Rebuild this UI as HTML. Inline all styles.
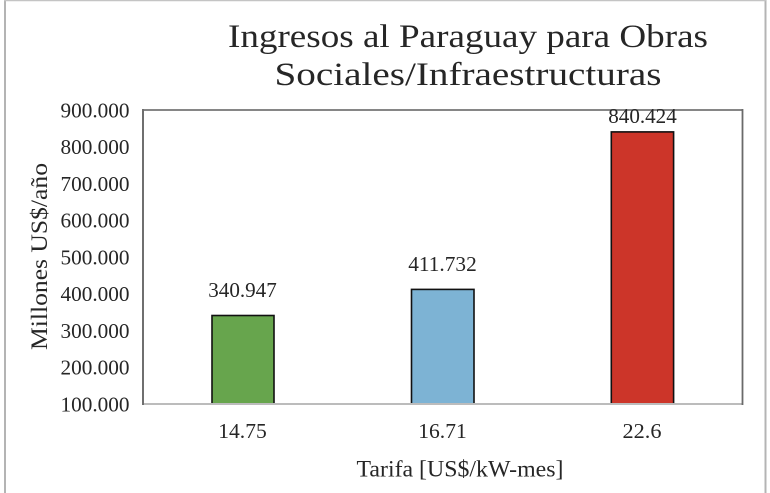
<!DOCTYPE html>
<html>
<head>
<meta charset="utf-8">
<style>
  html, body { margin: 0; padding: 0; background: #ffffff; }
  body { width: 770px; height: 493px; overflow: hidden; }
  svg { display: block; }
  text { font-family: "Liberation Serif", "Noto Serif CJK SC", serif; fill: #262626; }
</style>
</head>
<body>
<svg width="770" height="493" viewBox="0 0 770 493" xmlns="http://www.w3.org/2000/svg">
  <rect x="0" y="0" width="770" height="493" fill="#ffffff"/>
  <!-- outer frame -->
  <line x1="5" y1="0" x2="5" y2="493" stroke="#b4b4b4" stroke-width="2"/>
  <line x1="765.5" y1="0" x2="765.5" y2="493" stroke="#b4b4b4" stroke-width="2"/>
  <line x1="4" y1="0.5" x2="766" y2="0.5" stroke="#c4c4c4" stroke-width="1.5"/>

  <!-- title -->
  <text x="468" y="47" font-size="33" text-anchor="middle" textLength="480" lengthAdjust="spacingAndGlyphs">Ingresos al Paraguay para Obras</text>
  <text x="468" y="85" font-size="33" text-anchor="middle" textLength="387" lengthAdjust="spacingAndGlyphs">Sociales/Infraestructuras</text>

  <!-- bars -->
  <rect x="212" y="315.5" width="62" height="88.5" fill="#67a54d" stroke="#111" stroke-width="1.6"/>
  <rect x="411.5" y="289.4" width="62.5" height="114.6" fill="#7db3d4" stroke="#111" stroke-width="1.6"/>
  <rect x="611.3" y="131.9" width="62.3" height="272.1" fill="#cc3529" stroke="#111" stroke-width="1.6"/>

  <!-- plot area frame -->
  <line x1="143" y1="404" x2="743" y2="404" stroke="#bcbcbc" stroke-width="2"/>
  <line x1="143" y1="110" x2="743" y2="110" stroke="#757575" stroke-width="1.8"/>
  <line x1="143" y1="109" x2="143" y2="405" stroke="#6f6f6f" stroke-width="2"/>
  <line x1="742.5" y1="109" x2="742.5" y2="405" stroke="#6a6a6a" stroke-width="1.8"/>

  <!-- y tick labels -->
  <g font-size="21" text-anchor="end">
    <text x="129.5" y="117.3" textLength="69" lengthAdjust="spacingAndGlyphs">900.000</text>
    <text x="129.5" y="154.05" textLength="69" lengthAdjust="spacingAndGlyphs">800.000</text>
    <text x="129.5" y="190.8" textLength="69" lengthAdjust="spacingAndGlyphs">700.000</text>
    <text x="129.5" y="227.55" textLength="69" lengthAdjust="spacingAndGlyphs">600.000</text>
    <text x="129.5" y="264.3" textLength="69" lengthAdjust="spacingAndGlyphs">500.000</text>
    <text x="129.5" y="301.05" textLength="69" lengthAdjust="spacingAndGlyphs">400.000</text>
    <text x="129.5" y="337.8" textLength="69" lengthAdjust="spacingAndGlyphs">300.000</text>
    <text x="129.5" y="374.55" textLength="69" lengthAdjust="spacingAndGlyphs">200.000</text>
    <text x="129.5" y="411.3" textLength="69" lengthAdjust="spacingAndGlyphs">100.000</text>
  </g>

  <!-- data labels -->
  <g font-size="21" text-anchor="middle">
    <text x="242.5" y="297" textLength="68.5" lengthAdjust="spacingAndGlyphs">340.947</text>
    <text x="442.5" y="271" textLength="68.5" lengthAdjust="spacingAndGlyphs">411.732</text>
    <text x="642.5" y="123" textLength="68.5" lengthAdjust="spacingAndGlyphs">840.424</text>
  </g>

  <!-- x tick labels -->
  <g font-size="21" text-anchor="middle">
    <text x="242.5" y="438" textLength="48.5" lengthAdjust="spacingAndGlyphs">14.75</text>
    <text x="442.5" y="438" textLength="48.5" lengthAdjust="spacingAndGlyphs">16.71</text>
    <text x="642" y="438" textLength="39" lengthAdjust="spacingAndGlyphs">22.6</text>
  </g>

  <!-- axis titles -->
  <text x="460" y="476.5" font-size="23" text-anchor="middle" textLength="207" lengthAdjust="spacingAndGlyphs">Tarifa [US$/kW-mes]</text>
  <text transform="translate(47,256.5) rotate(-90)" x="0" y="0" font-size="23" text-anchor="middle" textLength="187" lengthAdjust="spacingAndGlyphs">Millones US$/año</text>
</svg>
</body>
</html>
